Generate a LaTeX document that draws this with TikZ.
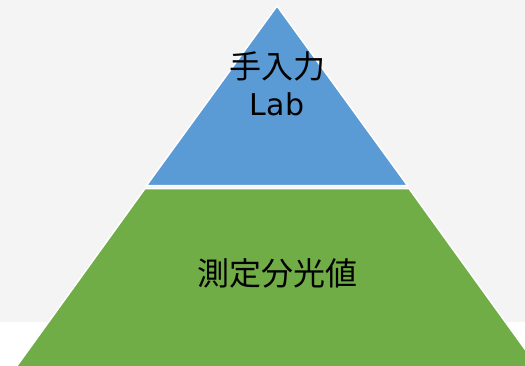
\documentclass[tikz,border=0pt]{standalone}
\usepackage{fontspec}
\newfontfamily\cjk{Noto Sans CJK JP}
\newfontfamily\latin{DejaVu Sans}
\definecolor{bggray}{HTML}{F4F4F4}
\definecolor{tipblue}{HTML}{5B9BD5}
\definecolor{basegreen}{HTML}{70AD47}
\tikzset{layer/.style={white, line width=1.5pt}, jtext/.style={font=\cjk\fontsize{32}{32}\selectfont}}

\begin{document}
\begin{tikzpicture}[x=1pt,y=-1pt]
\clip (0,0) rectangle (525,365);
\fill [bggray] (0,0) rectangle (525,322);
\draw [layer, fill=tipblue] (277,6) -- (407.5,185.5) -- (146.5,185.5) -- cycle;
\draw [layer, fill=basegreen] (145,188.5) -- (409,188.5) -- (540,370) -- (14,370) -- cycle;
\node[jtext] (tiptext) at (277,66) {手入力};
\node[font=\latin\fontsize{30}{30}\selectfont] (tiplab) at (277,104) {Lab};
\node[jtext] (basetext) at (277,273) {測定分光値};
\end{tikzpicture}
\end{document}
